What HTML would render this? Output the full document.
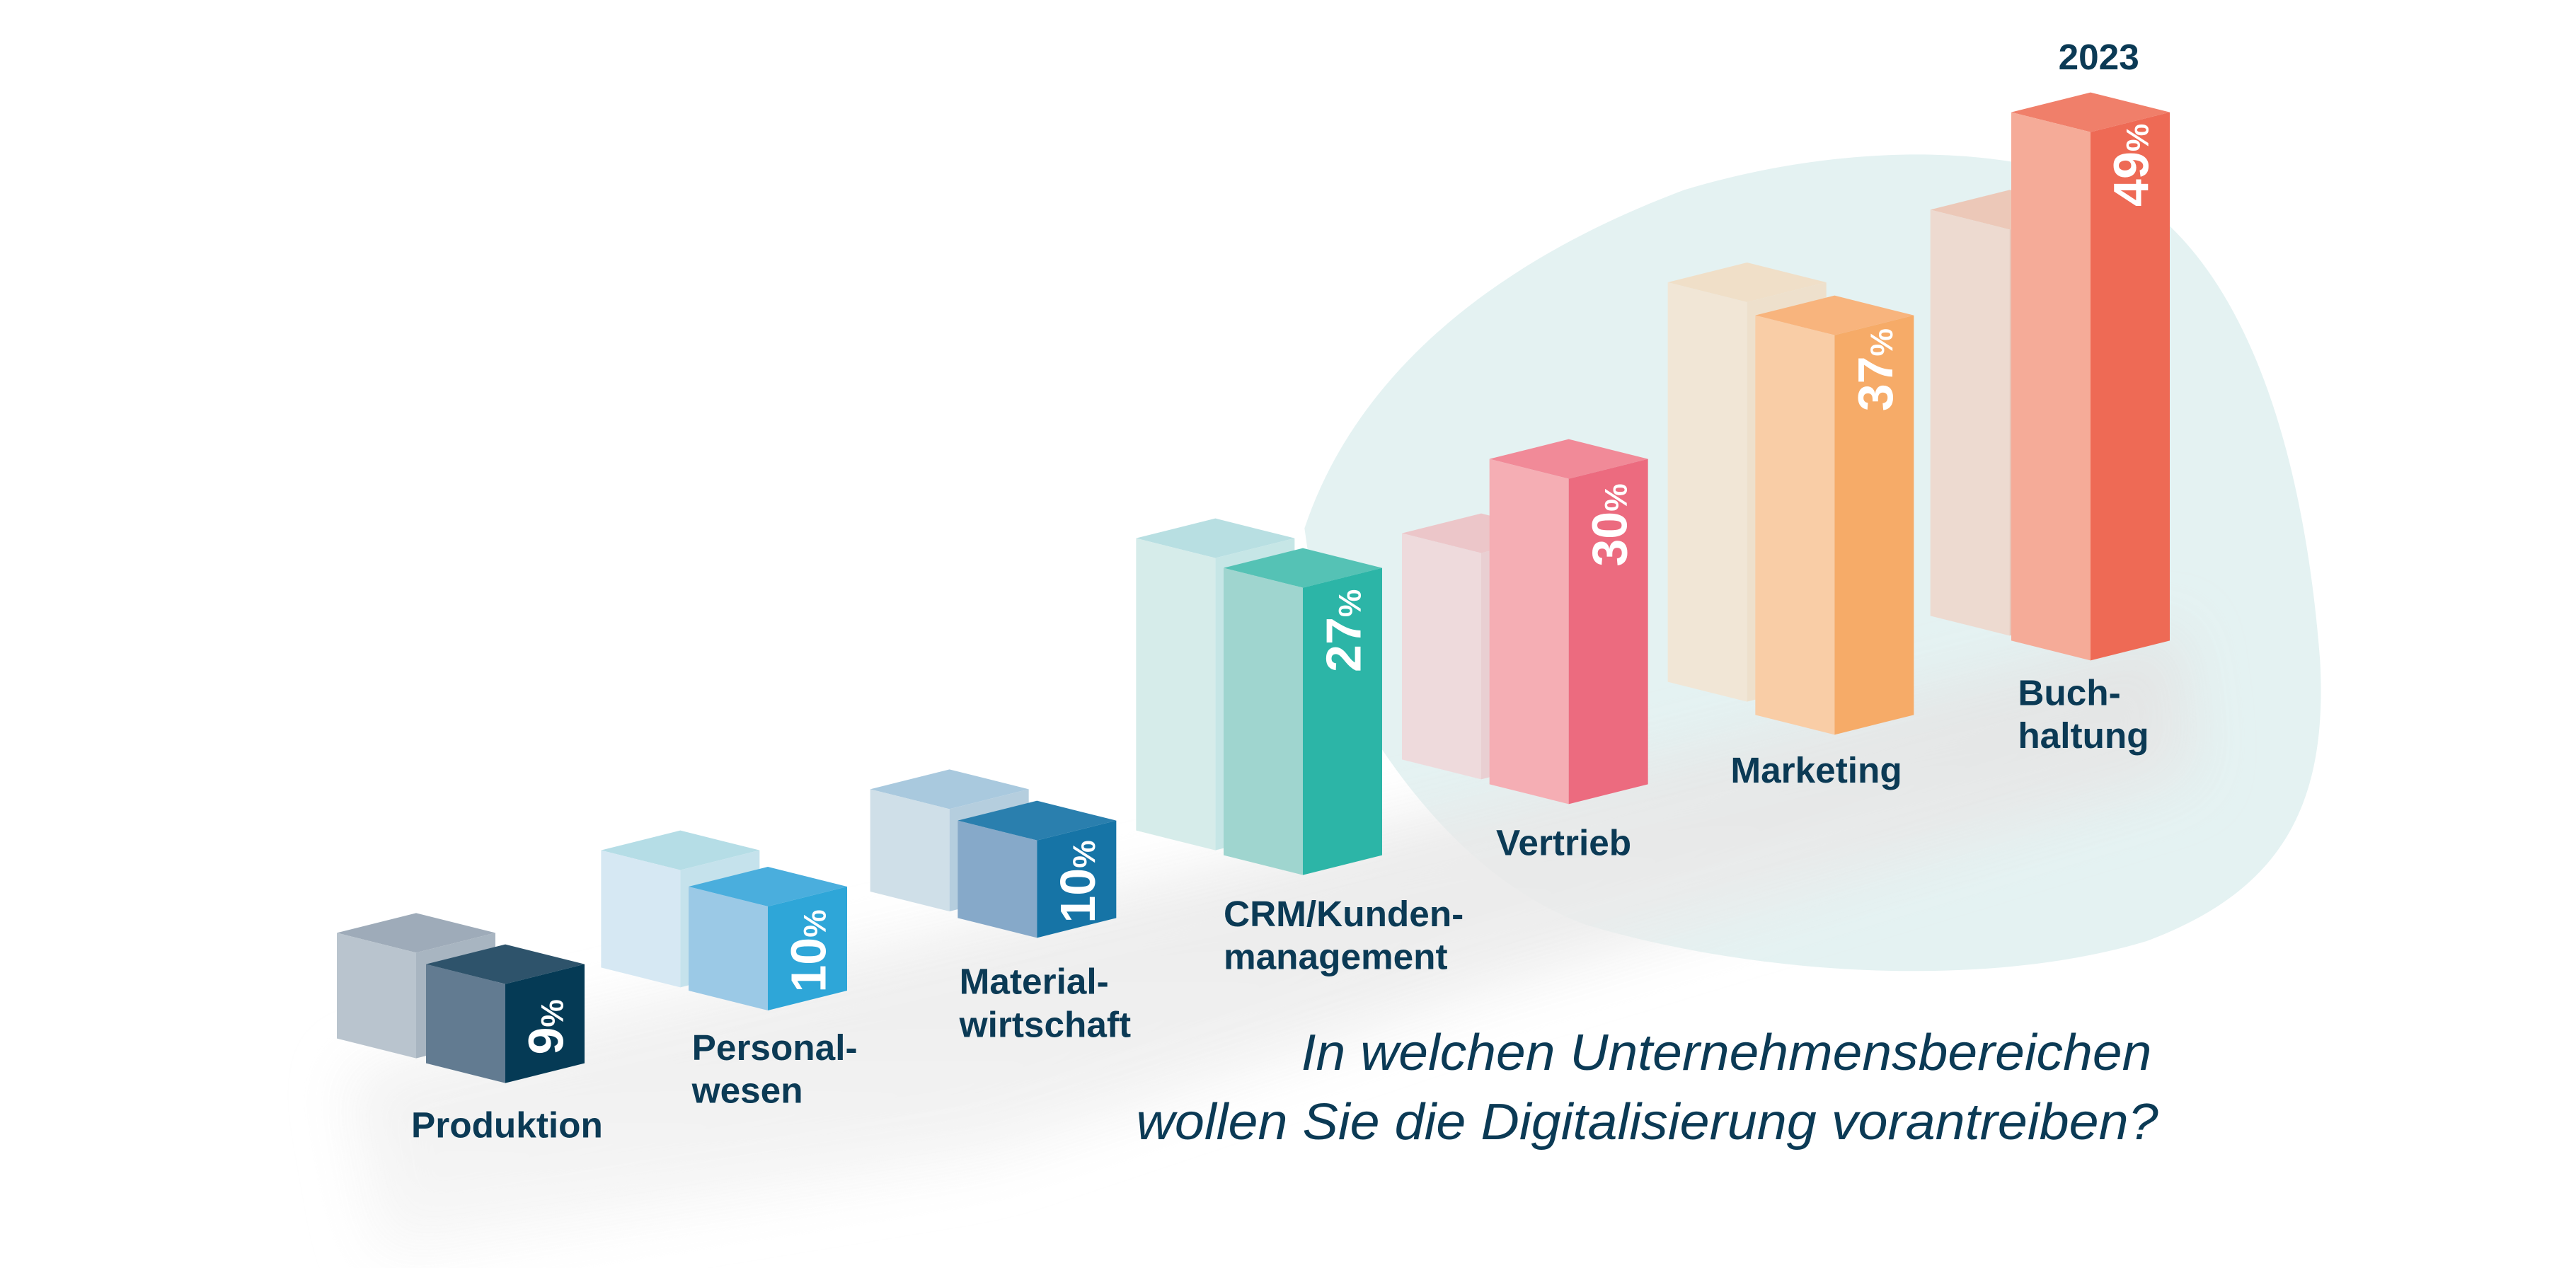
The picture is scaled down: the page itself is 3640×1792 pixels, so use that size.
<!DOCTYPE html>
<html><head><meta charset="utf-8"><style>
html,body{margin:0;padding:0;background:#fff;}
svg{display:block}
text{font-family:"Liberation Sans",sans-serif;}
</style></head><body>
<svg width="3640" height="1792" viewBox="0 0 1560 768" xmlns="http://www.w3.org/2000/svg">
<defs>
<filter id="bl" x="-20%" y="-40%" width="140%" height="180%"><feGaussianBlur stdDeviation="18"/></filter>
<linearGradient id="fl" x1="0" y1="0" x2="0" y2="1"><stop offset="0" stop-color="#e2e2e2"/><stop offset="1" stop-color="#f6f6f6"/></linearGradient>
</defs>
<rect width="1560" height="768" fill="#fff"/>
<path d="M790,320 C820,230 900,160 1020,115 C1120,85 1230,85 1300,125 C1360,170 1395,270 1405,400 C1410,490 1380,540 1300,570 C1200,600 1060,590 960,560 C880,530 830,450 800,390 Z" fill="#e4f2f2"/>
<polygon points="210,650 760,520 1320,380 1330,470 900,600 600,700 230,760" fill="url(#fl)" filter="url(#bl)" opacity="0.9"/>

<!-- Produktion -->
<polygon points="204,565 252,553 300,565 252,577" fill="#9eabb9"/>
<polygon points="204,565 252,577 252,641 204,629" fill="#b9c4ce"/>
<polygon points="252,577 300,565 300,629 252,641" fill="#a8b5c1"/>
<polygon points="258,584 306,572 354,584 306,596" fill="#2e536b"/>
<polygon points="258,584 306,596 306,656 258,644" fill="#627b91"/>
<polygon points="306,596 354,584 354,644 306,656" fill="#053a55"/>
<!-- Personal -->
<polygon points="364,515 412,503 460,515 412,527" fill="#b5dde6"/>
<polygon points="364,515 412,527 412,598 364,586" fill="#d6e8f3"/>
<polygon points="412,527 460,515 460,586 412,598" fill="#c5e2ec"/>
<polygon points="417,537 465,525 513,537 465,549" fill="#4aaedd"/>
<polygon points="417,537 465,549 465,612 417,600" fill="#9bc9e6"/>
<polygon points="465,549 513,537 513,600 465,612" fill="#2ea6d8"/>
<!-- Material -->
<polygon points="527,478 575,466 623,478 575,490" fill="#a9c9de"/>
<polygon points="527,478 575,490 575,552 527,540" fill="#cfdfe8"/>
<polygon points="575,490 623,478 623,540 575,552" fill="#b5cede"/>
<polygon points="580,497 628,485 676,497 628,509" fill="#2a7fae"/>
<polygon points="580,497 628,509 628,568 580,556" fill="#86a9c9"/>
<polygon points="628,509 676,497 676,556 628,568" fill="#1674a6"/>
<!-- CRM -->
<polygon points="688,326 736,314 784,326 736,338" fill="#b8dfe2"/>
<polygon points="688,326 736,338 736,515 688,503" fill="#d6ecea"/>
<polygon points="736,338 784,326 784,503 736,515" fill="#c6e6e6"/>
<polygon points="741,344 789,332 837,344 789,356" fill="#55c2b5"/>
<polygon points="741,344 789,356 789,530 741,518" fill="#9fd5cf"/>
<polygon points="789,356 837,344 837,518 789,530" fill="#2cb5a7"/>
<!-- Vertrieb -->
<polygon points="849,323 897,311 945,323 897,335" fill="#ecc6c9"/>
<polygon points="849,323 897,335 897,472 849,460" fill="#eedadc"/>
<polygon points="897,335 945,323 945,460 897,472" fill="#e9cfd2"/>
<polygon points="902,278 950,266 998,278 950,290" fill="#f18a98"/>
<polygon points="902,278 950,290 950,487 902,475" fill="#f5aeb4"/>
<polygon points="950,290 998,278 998,475 950,487" fill="#ec6b7f"/>
<!-- Marketing -->
<polygon points="1010,171 1058,159 1106,171 1058,183" fill="#f0dfc8"/>
<polygon points="1010,171 1058,183 1058,425 1010,413" fill="#f1e6d6"/>
<polygon points="1058,183 1106,171 1106,413 1058,425" fill="#eee0cc"/>
<polygon points="1063,191 1111,179 1159,191 1111,203" fill="#f8b47d"/>
<polygon points="1063,191 1111,203 1111,445 1063,433" fill="#f9cda6"/>
<polygon points="1111,203 1159,191 1159,433 1111,445" fill="#f6ab68"/>
<!-- Buchhaltung -->
<polygon points="1169,127 1217,115 1265,127 1217,139" fill="#ecc8b8"/>
<polygon points="1169,127 1217,139 1217,385 1169,373" fill="#eddad0"/>
<polygon points="1217,139 1265,127 1265,373 1217,385" fill="#e8c5b8"/>
<polygon points="1218,68 1266,56 1314,68 1266,80" fill="#f07f6a"/>
<polygon points="1218,68 1266,80 1266,400 1218,388" fill="#f5ab98"/>
<polygon points="1266,80 1314,68 1314,388 1266,400" fill="#ee6a55"/>

<g fill="#fff" font-weight="bold" font-size="30" text-anchor="middle">
<text transform="translate(341,622) rotate(-90)">9<tspan font-size="19">%</tspan></text>
<text transform="translate(500,576) rotate(-90)">10<tspan font-size="19">%</tspan></text>
<text transform="translate(663,534) rotate(-90)">10<tspan font-size="19">%</tspan></text>
<text transform="translate(824,382) rotate(-90)">27<tspan font-size="19">%</tspan></text>
<text transform="translate(985,318) rotate(-90)">30<tspan font-size="19">%</tspan></text>
<text transform="translate(1146,224) rotate(-90)">37<tspan font-size="19">%</tspan></text>
<text transform="translate(1301,100) rotate(-90)">49<tspan font-size="19">%</tspan></text>
</g>

<g fill="#0b3a55" font-weight="bold" font-size="22">
<text x="1271" y="42" text-anchor="middle">2023</text>
<text x="249" y="689">Produktion</text>
<text x="419" y="642">Personal-</text><text x="419" y="668">wesen</text>
<text x="581" y="602">Material-</text><text x="581" y="628">wirtschaft</text>
<text x="741" y="561">CRM/Kunden-</text><text x="741" y="587">management</text>
<text x="906" y="518">Vertrieb</text>
<text x="1048" y="474">Marketing</text>
<text x="1222" y="427">Buch-</text><text x="1222" y="453">haltung</text>
</g>
<g fill="#0b3a55" font-style="italic" font-size="31">
<text x="788" y="648" textLength="515" lengthAdjust="spacingAndGlyphs">In welchen Unternehmensbereichen</text>
<text x="688" y="690" textLength="619" lengthAdjust="spacingAndGlyphs">wollen Sie die Digitalisierung vorantreiben?</text>
</g>
</svg>
</body></html>
